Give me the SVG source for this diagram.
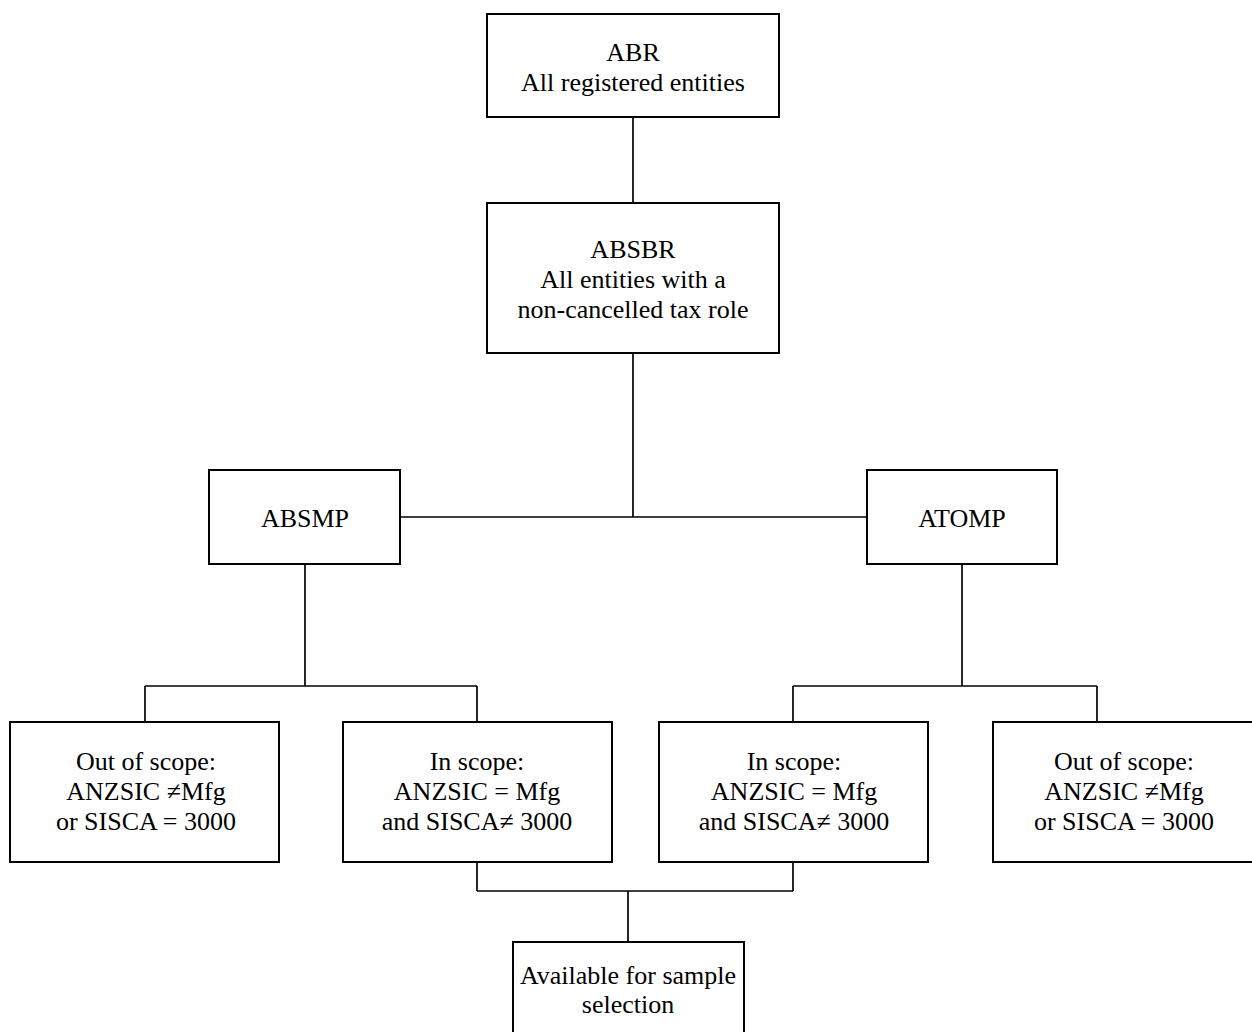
<svg xmlns="http://www.w3.org/2000/svg" width="1252" height="1032" viewBox="0 0 1252 1032">
<style>
rect.box{fill:#fff;stroke:#000;stroke-width:2}
.conn line{stroke:#000;stroke-width:1.7}
text{font-family:"Liberation Serif","Times New Roman",serif;font-size:26px;fill:#000;text-anchor:middle}
</style>
<rect width="1252" height="1032" fill="#fff"/>
<g class="conn" id="connectors">
<line x1="633" y1="117" x2="633" y2="203"/>
<line x1="633" y1="353" x2="633" y2="517"/>
<line x1="400" y1="517" x2="867" y2="517"/>
<line x1="305" y1="564" x2="305" y2="686"/>
<line x1="145" y1="686" x2="477" y2="686"/>
<line x1="145" y1="686" x2="145" y2="722"/>
<line x1="477" y1="686" x2="477" y2="722"/>
<line x1="962" y1="564" x2="962" y2="686"/>
<line x1="793" y1="686" x2="1097" y2="686"/>
<line x1="793" y1="686" x2="793" y2="722"/>
<line x1="1097" y1="686" x2="1097" y2="722"/>
<line x1="477" y1="862" x2="477" y2="891"/>
<line x1="793" y1="862" x2="793" y2="891"/>
<line x1="477" y1="891" x2="793" y2="891"/>
<line x1="628" y1="891" x2="628" y2="942"/>
</g>
<g id="abr">
<rect class="box" x="487" y="14" width="292" height="103"/>
<text x="633" y="61">ABR</text>
<text x="633" y="91">All registered entities</text>
</g>
<g id="absbr">
<rect class="box" x="487" y="203" width="292" height="150"/>
<text x="633" y="258">ABSBR</text>
<text x="633" y="288">All entities with a</text>
<text x="633" y="318">non-cancelled tax role</text>
</g>
<g id="absmp">
<rect class="box" x="209" y="470" width="191" height="94"/>
<text x="305" y="527">ABSMP</text>
</g>
<g id="atomp">
<rect class="box" x="867" y="470" width="190" height="94"/>
<text x="962" y="527">ATOMP</text>
</g>
<g id="out-left">
<rect class="box" x="10" y="722" width="269" height="140"/>
<text x="146" y="770">Out of scope:</text>
<text x="146" y="800">ANZSIC ≠Mfg</text>
<text x="146" y="830">or SISCA = 3000</text>
</g>
<g id="in-left">
<rect class="box" x="343" y="722" width="269" height="140"/>
<text x="477" y="770">In scope:</text>
<text x="477" y="800">ANZSIC = Mfg</text>
<text x="477" y="830">and SISCA≠ 3000</text>
</g>
<g id="in-right">
<rect class="box" x="659" y="722" width="269" height="140"/>
<text x="794" y="770">In scope:</text>
<text x="794" y="800">ANZSIC = Mfg</text>
<text x="794" y="830">and SISCA≠ 3000</text>
</g>
<g id="out-right">
<rect class="box" x="993" y="722" width="262" height="140"/>
<text x="1124" y="770">Out of scope:</text>
<text x="1124" y="800">ANZSIC ≠Mfg</text>
<text x="1124" y="830">or SISCA = 3000</text>
</g>
<g id="available">
<rect class="box" x="513" y="942" width="231" height="100"/>
<text x="628" y="984">Available for sample</text>
<text x="628" y="1013">selection</text>
</g>
</svg>
